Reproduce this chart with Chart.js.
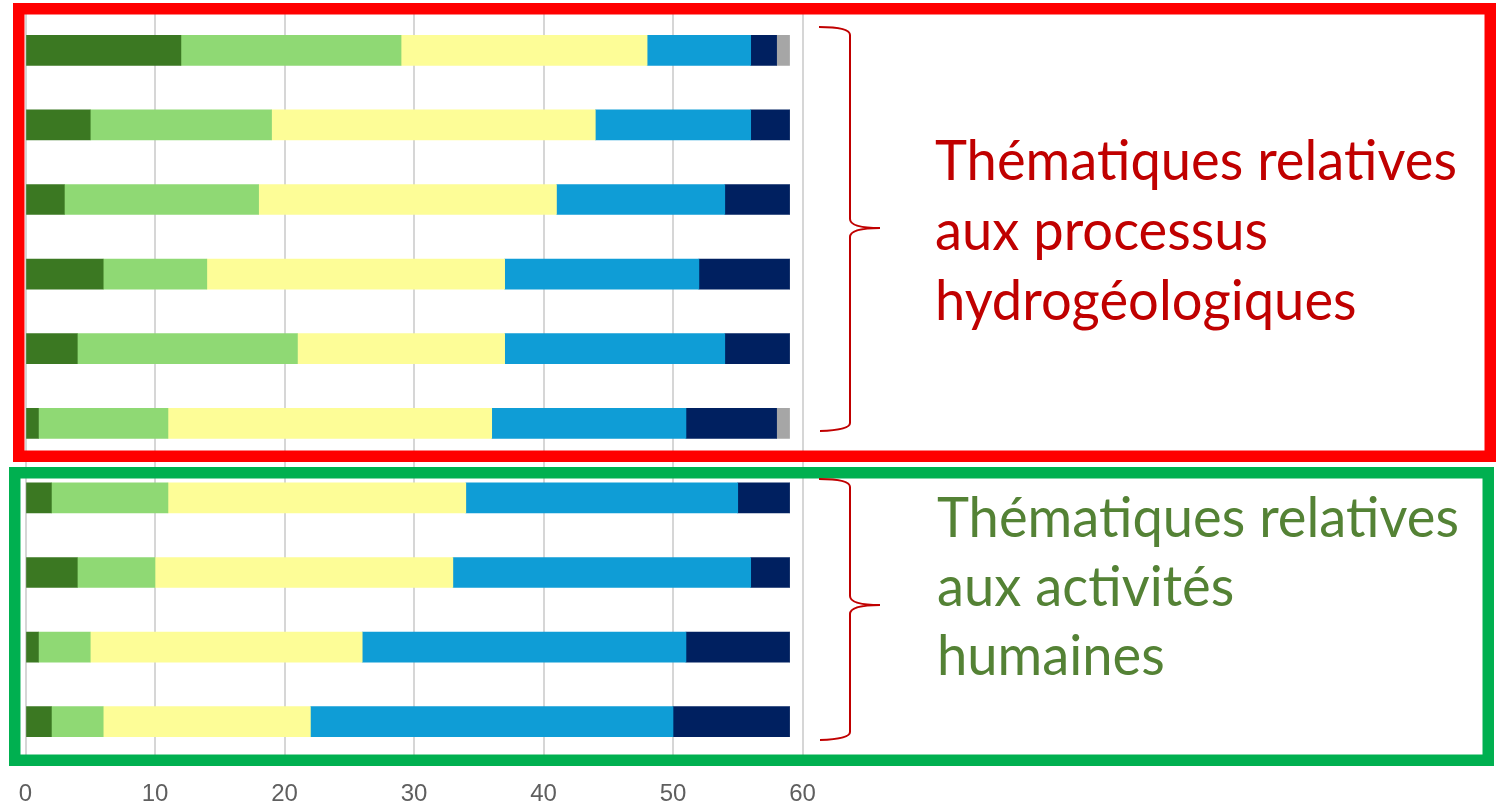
<!DOCTYPE html>
<html>
<head>
<meta charset="utf-8">
<script src="https://cdn.jsdelivr.net/npm/chart.js@4/dist/chart.umd.min.js"></script>
<style>
  html, body { margin: 0; padding: 0; background: #ffffff; }
  #wrap { position: relative; width: 1501px; height: 805px; overflow: hidden; }
  #chart { position: absolute; left: 0; top: 0; }
  #overlay { position: absolute; left: 0; top: 0; pointer-events: none; }
</style>
</head>
<body>
<div id="wrap">
  <canvas id="chart" width="1501" height="805"></canvas>
  <svg id="overlay" width="1501" height="805" xmlns="http://www.w3.org/2000/svg">
    <rect x="18.75" y="8.75" width="1471.5" height="447.5" fill="none" stroke="#ff0000" stroke-width="11.5"/>
    <rect x="14.75" y="472.75" width="1473.5" height="287.5" fill="none" stroke="#00b050" stroke-width="11.5"/>
    <path d="M819,27 Q850,27 850,35 L850,219 Q850,228 880,228 Q850,228 850,237 L850,423 Q850,430 820,431" fill="none" stroke="#c00000" stroke-width="2"/>
    <path d="M819,479 Q850,479 850,487 L850,596 Q850,605 880,605 Q850,605 850,614 L850,732 Q850,739 820,740" fill="none" stroke="#c00000" stroke-width="2"/>
    <g id="redText" font-family="Lato" font-size="56" fill="#c00000">
      <text id="r1" x="0" y="180">Thématiques relatives</text>
      <text x="0" y="250">aux processus</text>
      <text x="0" y="320">hydrogéologiques</text>
    </g>
    <g id="greenText" font-family="Lato" font-size="56" fill="#548235">
      <text id="g1" x="0" y="537">Thématiques relatives</text>
      <text x="0" y="606">aux activités</text>
      <text x="0" y="675">humaines</text>
    </g>
  </svg>
</div>
<script>
// ---- Data ----
const categories = ['Thème 1', 'Thème 2', 'Thème 3', 'Thème 4', 'Thème 5', 'Thème 6', 'Thème 7', 'Thème 8', 'Thème 9', 'Thème 10'];
const seriesNames = ['Série 1', 'Série 2', 'Série 3', 'Série 4', 'Série 5', 'Série 6'];
const darkGreen  = [12, 5, 3, 6, 4, 1, 2, 4, 1, 2];
const lightGreen = [17, 14, 15, 8, 17, 10, 9, 6, 4, 4];
const yellow     = [19, 25, 23, 23, 16, 25, 23, 23, 21, 16];
const blue       = [8, 12, 13, 15, 17, 15, 21, 23, 25, 28];
const navy       = [2, 3, 5, 7, 5, 7, 4, 3, 8, 9];
const gray       = [1, 0, 0, 0, 0, 1, 0, 0, 0, 0];
const xTicks     = [0, 10, 20, 30, 40, 50, 60];

const seriesValues = [darkGreen, lightGreen, yellow, blue, navy, gray];
const seriesColors = ['#3b7822', '#8fd974', '#fdfd97', '#0f9dd6', '#002060', '#a6a6a6'];

const datasets = seriesValues.map((vals, i) => ({
  label: seriesNames[i],
  data: vals,
  backgroundColor: seriesColors[i],
  borderWidth: 0,
  barThickness: 30
}));

new Chart(document.getElementById('chart'), {
  type: 'bar',
  data: { labels: categories, datasets },
  options: {
    indexAxis: 'y',
    responsive: false,
    animation: false,
    devicePixelRatio: 1,
    layout: { padding: { left: 25.5, right: 698.5, top: 13, bottom: 0 } },
    plugins: { legend: { display: false }, tooltip: { enabled: false } },
    scales: {
      x: {
        stacked: true,
        min: 0,
        max: 60,
        afterBuildTicks: (s) => { s.ticks = xTicks.map(v => ({ value: v })); },
        afterFit: (s) => { s.height = 46; s.paddingLeft = 0; s.paddingRight = 0; },
        grid: { color: '#d6d6d6', lineWidth: 2, drawTicks: false },
        border: { display: false },
        ticks: {
          padding: 21,
          color: '#5f5f5f',
          font: { family: 'Liberation Sans', size: 24 }
        }
      },
      y: {
        stacked: true,
        display: false
      }
    }
  }
});

function fitText() {
  const target = 522;
  [['redText', 'r1', 935], ['greenText', 'g1', 937]].forEach(([gid, tid, x]) => {
    const w = document.getElementById(tid).getComputedTextLength();
    const sx = w > 0 ? target / w : 1;
    document.getElementById(gid).setAttribute('transform', 'translate(' + x + ',0) scale(' + sx + ',1)');
  });
}
fitText();
if (document.fonts && document.fonts.ready) document.fonts.ready.then(fitText);
</script>
</body>
</html>
